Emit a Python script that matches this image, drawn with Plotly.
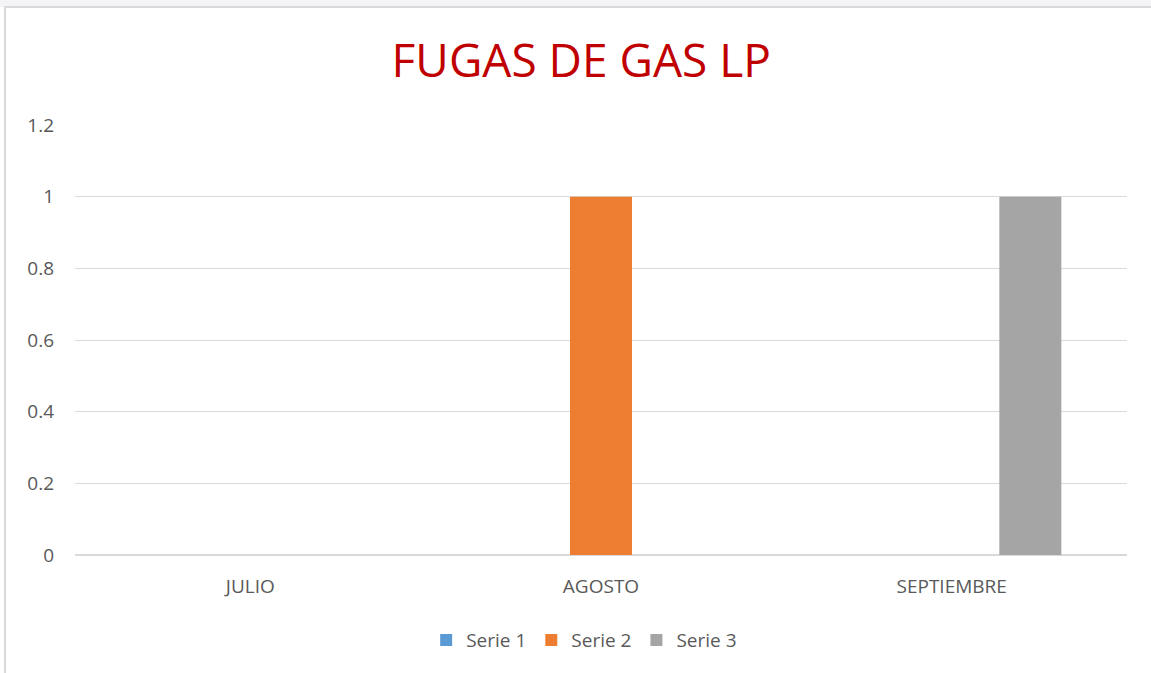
import plotly.graph_objects as go

meses = ["JULIO", "AGOSTO", "SEPTIEMBRE"]
serie_1 = [0, 0, 0]
serie_2 = [0, 1, 0]
serie_3 = [0, 0, 1]

colores = ["#5B9BD5", "#ED7D31", "#A5A5A5"]
nombres = ["Serie 1", "Serie 2", "Serie 3"]

fig = go.Figure()
for nombre, valores, color in zip(nombres, [serie_1, serie_2, serie_3], colores):
    fig.add_trace(go.Bar(x=meses, y=valores, name=nombre, marker=dict(color=color, line=dict(width=0))))

fig.update_layout(
    width=1151, height=673,
    paper_bgcolor="white", plot_bgcolor="white",
    barmode="group", bargap=0.327, bargroupgap=0.212,
    font=dict(family="Open Sans, Liberation Sans, sans-serif", color="#595959", size=19),
    title=dict(text="FUGAS DE GAS LP", x=0.505, xanchor="center", y=0.909, yanchor="middle",
               font=dict(size=46, color="#C00000")),
    margin=dict(l=75, r=24, t=125, b=118),
    showlegend=True,
    legend=dict(orientation="h", x=0.484, xanchor="center", y=-0.198, yanchor="middle",
                font=dict(size=19, color="#595959"), itemwidth=30, traceorder="normal"),
    xaxis=dict(showgrid=False, showline=False, ticks="", ticklabelstandoff=18,
               tickfont=dict(size=19)),
    yaxis=dict(range=[0, 1.2], dtick=0.2, tickformat="~g", showgrid=True, gridcolor="#D9D9D9",
               gridwidth=1, zeroline=True, zerolinecolor="#D9D9D9", zerolinewidth=1.5,
               showline=False, ticks="", ticklabelstandoff=20, tickfont=dict(size=19)),
    shapes=[
        dict(type="rect", xref="paper", yref="paper", x0=-0.1, x1=1.1, y0=1.2744, y1=1.4,
             fillcolor="#F4F4F7", line=dict(width=0), layer="below"),
        dict(type="rect", xref="paper", yref="paper", x0=-0.0665, x1=1.1, y0=-0.4, y1=1.2744,
             fillcolor="rgba(0,0,0,0)", line=dict(color="#D9D9D9", width=2)),
    ],
)

fig.write_html("out.html", config=dict(displayModeBar=False),
               post_script="document.body.style.margin='0';document.body.style.overflow='hidden';")
